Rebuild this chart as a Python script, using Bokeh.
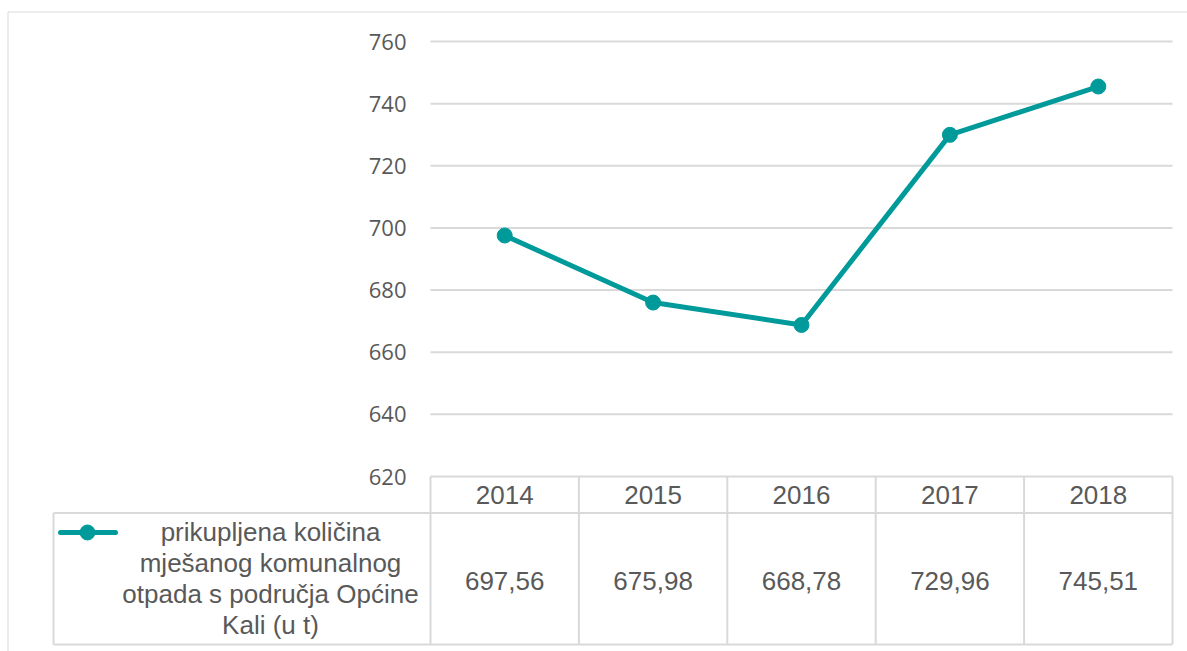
from bokeh.plotting import figure
from bokeh.models import Range1d
from bokeh.embed import file_html
from bokeh.resources import INLINE
from bokeh.core.properties import value

# ---- data ----
years = ["2014", "2015", "2016", "2017", "2018"]
amounts = [697.56, 675.98, 668.78, 729.96, 745.51]
amount_labels = ["697,56", "675,98", "668,78", "729,96", "745,51"]
y_ticks = [620, 640, 660, 680, 700, 720, 740, 760]
y_tick_labels = ["620", "640", "660", "680", "700", "720", "740", "760"]
series_name_lines = ["prikupljena količina", "mješanog komunalnog",
                     "otpada s područja Općine", "Kali (u t)"]

# ---- style / layout (page pixels) ----
TEAL = "#009a9a"
GRID = "#d9d9d9"
TEXT = "#595959"
FONT_AX = "Open Sans"
FONT_TB = "Liberation Sans"

W, H = 1187, 651
PLOT_L, PLOT_R = 430, 1172      # chart area left / right
PLOT_T, PLOT_B = 41, 476        # y of 760 / 620
Y_MIN, Y_MAX = 620, 760
n = len(years)
xs = list(range(n))
unit = (PLOT_R - PLOT_L) / n
k = (PLOT_B - PLOT_T) / (Y_MAX - Y_MIN)

HEAD_B = 512.5                   # header row bottom
TAB_B = 644                      # table bottom
LEG_L = 53                       # legend cell left

p = figure(width=W, height=H,
           x_range=Range1d(-0.5 - PLOT_L / unit, n - 0.5 + (W - PLOT_R) / unit),
           y_range=Range1d(Y_MIN - (H - PLOT_B) / k, Y_MAX + PLOT_T / k),
           output_backend="svg", toolbar_location=None,
           x_axis_location=None, y_axis_location=None, min_border=0)
p.extra_x_ranges = {"px": Range1d(0, W)}
p.extra_y_ranges = {"py": Range1d(H, 0)}
p.outline_line_color = None
p.grid.grid_line_color = None
p.background_fill_color = "white"
p.border_fill_color = "white"

# outer frame of the chart object
p.segment(x0=[7.5, 7.5], y0=[11.5, 11.5], x1=[7.5, W], y1=[H, 11.5],
          x_range_name="px", y_range_name="py", line_color=GRID, line_width=1)

# horizontal gridlines
p.segment(x0=[-0.5] * len(y_ticks), y0=y_ticks, x1=[n - 0.5] * len(y_ticks), y1=y_ticks,
          line_color=GRID, line_width=2)

# y tick labels
p.text(x=[-0.5 - 24 / unit] * len(y_ticks), y=y_ticks, text=y_tick_labels,
       text_align="right", text_baseline="middle",
       text_font=value(FONT_AX), text_font_size="22px", text_color=TEXT)

# series
p.line(xs, amounts, line_color=TEAL, line_width=5)
p.scatter(xs, amounts, size=15, fill_color=TEAL, line_color=TEAL)

# ---- data table ----
bounds = [i - 0.5 for i in range(n + 1)]
p.segment(x0=bounds, y0=[PLOT_B] * len(bounds), x1=bounds, y1=[TAB_B] * len(bounds),
          y_range_name="py", line_color=GRID, line_width=2)
p.segment(x0=[LEG_L, LEG_L, LEG_L], y0=[HEAD_B, TAB_B, HEAD_B],
          x1=[PLOT_R, PLOT_R, LEG_L], y1=[HEAD_B, TAB_B, TAB_B],
          x_range_name="px", y_range_name="py", line_color=GRID, line_width=2)

# header years
p.text(x=xs, y=[494] * n, text=years, y_range_name="py",
       text_align="center", text_baseline="alphabetic",
       text_font=value(FONT_TB), text_font_size="26px", text_color=TEXT)

# values
p.text(x=xs, y=[580] * n, text=amount_labels, y_range_name="py",
       text_align="center", text_baseline="alphabetic",
       text_font=value(FONT_TB), text_font_size="26px", text_color=TEXT)

# legend key
p.line([60, 115], [532, 532], x_range_name="px", y_range_name="py",
       line_color=TEAL, line_width=5, line_cap="round")
p.scatter([87], [532], x_range_name="px", y_range_name="py",
          size=15, fill_color=TEAL, line_color=TEAL)

# series name
p.text(x=[270] * len(series_name_lines), y=[531, 562.5, 593.5, 624.5],
       text=series_name_lines, x_range_name="px", y_range_name="py",
       text_align="center", text_baseline="alphabetic",
       text_font=value(FONT_TB), text_font_size="26px", text_color=TEXT)

open("out.html", "w").write(file_html(p, INLINE))
